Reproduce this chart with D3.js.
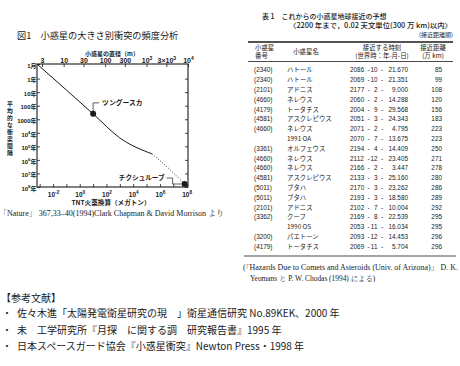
<!DOCTYPE html>
<html><head><meta charset="utf-8">
<script src="https://cdn.jsdelivr.net/npm/d3@7"></script>
<style>
html,body{margin:0;padding:0;background:#fff;}
svg{display:block;}
</style></head>
<body>
<svg id="c" width="460" height="366"></svg>
<script>
// ---------- chart data ----------
const energySolid = [6.3e-4, 10, 1000, 2.6e5];          // megatons TNT
const intervalSolid = [1/12, 400, 24000, 3.6e5];        // years
const energyDotted = [2.6e5, 3.4e6, 7e7];
const intervalDotted = [3.6e5, 3.3e6, 6e7];
const eventNames = ["ツングースカ", "チクシュルーブ"];
const eventEnergy = [10, 7e7];
const eventInterval = [400, 6e7];

const yTickValues = [1/12, 1, 10, 100, 1000, 1e4, 1e5, 1e6, 1e7, 1e8];
const yTickLabels = ["1月","1年","10年","100年","1000年","10^4年","10^5年","10^6年","10^7年","10^8年"];
const xTickValues = [1e-3,1e-2,1e-1,1,10,100,1e3,1e4,1e5,1e6,1e7,1e8];
const xTickLabels = ["","10^-2","","10^0","","10^2","","10^4","","10^6","","10^8"];
const diamTickValues = [3, 10, 30, 100, 300, 1000, 3000, 10000];
const diamTickLabels = ["3","10","30","100","300","10^3","3×10^3","10^4"];

// ---------- table data ----------
const astNumbers = ["(2340)","(2340)","(2101)","(4660)","(4179)","(4581)","(4660)","","(3361)","(4660)","(4660)","(4581)","(5011)","(5011)","(2101)","(3362)","","(3200)","(4179)"];
const astNames = ["ハトール","ハトール","アドニス","ネレウス","トータチス","アスクレピウス","ネレウス","1991 OA","オルフェウス","ネレウス","ネレウス","アスクレピウス","ブタハ","ブタハ","アドニス","クーフ","1990 OS","パエトーン","トータチス"];
const apYear = ["2086","2069","2177","2060","2004","2051","2071","2070","2194","2112","2166","2133","2170","2193","2102","2169","2053","2093","2069"];
const apMonth = ["10","10","2","2","9","3","2","7","4","12","2","3","3","3","7","8","11","12","11"];
const apDay = ["21.670","21.351","9.000","14.288","29.568","24.343","4.795","13.675","14.409","23.405","3.447","25.160","23.262","18.580","10.004","22.539","16.034","14.453","5.704"];
const apDist = [85,99,108,120,156,183,223,223,250,271,278,280,286,289,292,295,295,296,296];

const refs = [
  "佐々木進「太陽発電衛星研究の現　」衛星通信研究 No.89KEK、2000 年",
  "未　工学研究所『月探　に関する調　研究報告書』1995 年",
  "日本スペースガード協会『小惑星衝突』Newton Press・1998 年"
];

// ---------- drawing ----------
const svg = d3.select("#c");
const INK = "#1a1a1a";
const SANS = "'Liberation Sans','Noto Sans CJK JP',sans-serif";
const JP = "'Noto Sans CJK JP',sans-serif";
const SERIF = "'Liberation Serif','Noto Serif CJK JP','Noto Sans CJK JP',serif";

const L = 37, R = 188, T = 64, B = 187;
const x = d3.scaleLog().domain([Math.pow(10,-3.2), Math.pow(10,8.1)]).range([L, R]);
const y = d3.scaleLog().domain([1/12, 1e8]).range([T, B]);
const xd = d3.scaleLog().domain([3, 10000]).range([42, 188]);

function fillLabel(sel, label, fs) {
  sel.text(null);
  if (!label) { sel.remove(); return; }
  const parts = label.split(/\^(-?\d+)/);
  let afterSup = false;
  parts.forEach((p, i) => {
    if (i % 2 === 1) {
      sel.append("tspan").attr("dy", -fs*0.4).attr("font-size", fs*0.72).text(p);
      afterSup = true;
    } else if (p !== "") {
      const t = sel.append("tspan").attr("font-size", fs).text(p);
      if (afterSup) t.attr("dy", fs*0.4);
      afterSup = false;
    }
  });
}

// title
svg.append("text").attr("x", 17).attr("y", 38.5).attr("font-family", JP)
  .attr("font-size", 9.2).attr("fill", INK).text("図1　小惑星の大きさ別衝突の頻度分析");

// top axis title
svg.append("text").attr("x", 112).attr("y", 56).attr("text-anchor","middle")
  .attr("font-family", JP).attr("font-weight", 700).attr("font-size", 6).attr("fill", INK)
  .text("小惑星の直径（m）");

// axes
const gTop = svg.append("g").attr("transform", `translate(0,${T})`)
  .call(d3.axisTop(xd).tickValues(diamTickValues).tickSizeInner(-3).tickSizeOuter(0).tickPadding(1.5));
gTop.selectAll("text").each(function(d, i){ fillLabel(d3.select(this), diamTickLabels[i], 7); });

const gBot = svg.append("g").attr("transform", `translate(0,${B})`)
  .call(d3.axisBottom(x).tickValues(xTickValues).tickSizeInner(-3).tickSizeOuter(0).tickPadding(2.5));
gBot.selectAll("text").each(function(d, i){ fillLabel(d3.select(this), xTickLabels[i], 6.5); });

const gLeft = svg.append("g").attr("transform", `translate(${L},0)`)
  .call(d3.axisLeft(y).tickValues(yTickValues).tickSizeInner(-3).tickSizeOuter(0).tickPadding(0.5));
gLeft.selectAll("text").each(function(d, i){ fillLabel(d3.select(this), yTickLabels[i], 6); });

const gRight = svg.append("g").attr("transform", `translate(${R},0)`)
  .call(d3.axisRight(y).tickValues(yTickValues.slice(1)).tickSizeInner(-3).tickSizeOuter(0).tickFormat(() => ""));
gRight.selectAll("text").remove();

[gTop, gBot, gLeft, gRight].forEach(g => {
  g.select(".domain").remove();
  g.selectAll("line").attr("stroke", INK).attr("stroke-width", 0.8);
  g.selectAll("text").attr("fill", INK).attr("font-family", SANS).attr("font-weight", 700);
});

// frame
svg.append("rect").attr("x", L).attr("y", T).attr("width", R - L).attr("height", B - T)
  .attr("fill", "none").attr("stroke", INK).attr("stroke-width", 1.1);

// bottom axis title
svg.append("text").attr("x", 111).attr("y", 204.5).attr("text-anchor","middle")
  .attr("font-family", JP).attr("font-weight", 700).attr("font-size", 6.6).attr("fill", INK)
  .text("TNT火薬換算（メガトン）");

// y axis title (vertical, single text)
svg.append("text").attr("x", 10).attr("y", 101)
  .attr("writing-mode", "vertical-rl").style("writing-mode", "vertical-rl")
  .attr("letter-spacing", 1.2)
  .attr("font-family", JP).attr("font-weight", 700).attr("font-size", 5.8).attr("fill", INK)
  .text("平均的な衝突間隔");

// curve
const line = d3.line().x(d => x(d[0])).y(d => y(d[1])).curve(d3.curveMonotoneX);
svg.append("path").datum(d3.zip(energySolid, intervalSolid))
  .attr("d", line).attr("fill","none").attr("stroke", INK).attr("stroke-width", 1);
svg.append("path").datum(d3.zip(energyDotted, intervalDotted))
  .attr("d", line).attr("fill","none").attr("stroke", INK).attr("stroke-width", 1).attr("stroke-dasharray","0.9 1.8");

// events
svg.append("g").selectAll("circle").data(d3.zip(eventEnergy, eventInterval)).join("circle")
  .attr("cx", d => x(d[0])).attr("cy", d => y(d[1])).attr("r", 3).attr("fill", INK);

const tx = x(eventEnergy[0]), ty = y(eventInterval[0]);
svg.append("path").attr("d", `M${tx},${ty-3} V${ty-11} H${tx+6}`).attr("fill","none").attr("stroke",INK).attr("stroke-width",0.7);
svg.append("text").attr("x", tx + 9).attr("y", ty - 9).attr("font-family", JP).attr("font-weight", 700)
  .attr("font-size", 6.8).attr("fill", INK).text(eventNames[0]);

const cx = x(eventEnergy[1]), cy = y(eventInterval[1]);
svg.append("path").attr("d", `M${cx-18},${cy-6} H${cx-12} V${cy} H${cx-3}`).attr("fill","none").attr("stroke",INK).attr("stroke-width",0.7);
svg.append("text").attr("x", cx - 20).attr("y", cy - 4).attr("text-anchor","end").attr("font-family", JP).attr("font-weight", 700)
  .attr("font-size", 6.6).attr("fill", INK).text(eventNames[1]);

// Nature citation
svg.append("text").attr("x", -1).attr("y", 216).attr("font-family", SERIF).attr("font-size", 8)
  .attr("fill", INK).text("「Nature」 367,33–40(1994)Clark Chapman & David Morrison より");

// ---------- table ----------
const tg = svg.append("g").attr("fill", INK).attr("font-family", JP);
tg.append("text").attr("x", 262).attr("y", 19).attr("font-size", 7).attr("font-weight", 500)
  .text("表 1　これからの小惑星地球接近の予想");
tg.append("text").attr("x", 289).attr("y", 28).attr("font-size", 7).attr("font-weight", 500)
  .attr("textLength", 163).attr("lengthAdjust", "spacingAndGlyphs")
  .text("〈2200 年まで，0.02 天文単位(300 万 km)以内〉");
tg.append("text").attr("x", 453).attr("y", 37).attr("text-anchor","end").attr("font-size", 6)
  .text("(接近距離順)");
tg.append("line").attr("x1", 248).attr("x2", 453).attr("y1", 42).attr("y2", 42).attr("stroke", INK).attr("stroke-width", 1.5);

const hdr = [
  [255, 50, "start", "小惑星"], [255, 58, "start", "番号"],
  [306, 54, "middle", "小惑星名"],
  [382, 50, "middle", "接近する時刻"], [382, 58, "middle", "(世界時：年-月-日)"],
  [433, 50, "middle", "接近距離"], [433, 58, "middle", "(万 km)"]
];
tg.selectAll("text.h").data(hdr).join("text").attr("class","h")
  .attr("x", d => d[0]).attr("y", d => d[1]).attr("text-anchor", d => d[2])
  .attr("font-size", 6.4).text(d => d[3]);
tg.append("line").attr("x1", 248).attr("x2", 453).attr("y1", 61.5).attr("y2", 61.5).attr("stroke", INK).attr("stroke-width", 0.8);

const rowY = d3.scaleLinear().domain([0, astNames.length - 1]).range([72.3, 248.7]);
const rows = tg.selectAll("g.row").data(astNames.map((n, i) => i)).join("g").attr("class","row")
  .attr("transform", i => `translate(0,${rowY(i)})`).attr("font-size", 6.4);
rows.filter(i => astNumbers[i] !== "").append("text").attr("x", 254).attr("font-family", SANS).text(i => astNumbers[i]);
rows.append("text").attr("x", 287).text(i => astNames[i]);
rows.append("text").attr("x", 350).attr("font-family", SANS).text(i => apYear[i]);
rows.append("text").attr("x", 368.5).attr("text-anchor","middle").attr("font-family", SANS).text("-");
rows.append("text").attr("x", 377.5).attr("text-anchor","end").attr("font-family", SANS).text(i => apMonth[i]);
rows.append("text").attr("x", 382).attr("text-anchor","middle").attr("font-family", SANS).text("-");
rows.append("text").attr("x", 408).attr("text-anchor","end").attr("font-family", SANS).text(i => apDay[i]);
rows.append("text").attr("x", 442).attr("text-anchor","end").attr("font-family", SANS).text(i => apDist[i]);

tg.append("line").attr("x1", 244).attr("x2", 456).attr("y1", 256).attr("y2", 256).attr("stroke", INK).attr("stroke-width", 0.8);
tg.append("text").attr("x", 243).attr("y", 270).attr("font-family", SERIF).attr("font-size", 7.4)
  .attr("textLength", 215).attr("lengthAdjust","spacingAndGlyphs")
  .text("(「Hazards Due to Comets and Asteroids (Univ. of Arizona)」 D. K.");
tg.append("text").attr("x", 250).attr("y", 280.5).attr("font-family", SERIF).attr("font-size", 7.4)
  .text("Yeomans と P. W. Chodas (1994) による)");

// ---------- references ----------
const rg = svg.append("g").attr("fill", INK).attr("font-family", JP).attr("font-size", 10);
rg.append("text").attr("x", 1).attr("y", 302).text("【参考文献】");
const refY = [317, 334, 350];
rg.selectAll("text.b").data(refs).join("text").attr("class","b").attr("x", 2).attr("y", (d,i) => refY[i]).text("・");
rg.selectAll("text.r").data(refs).join("text").attr("class","r").attr("x", 17).attr("y", (d,i) => refY[i]).text(d => d);
</script>
</body></html>
